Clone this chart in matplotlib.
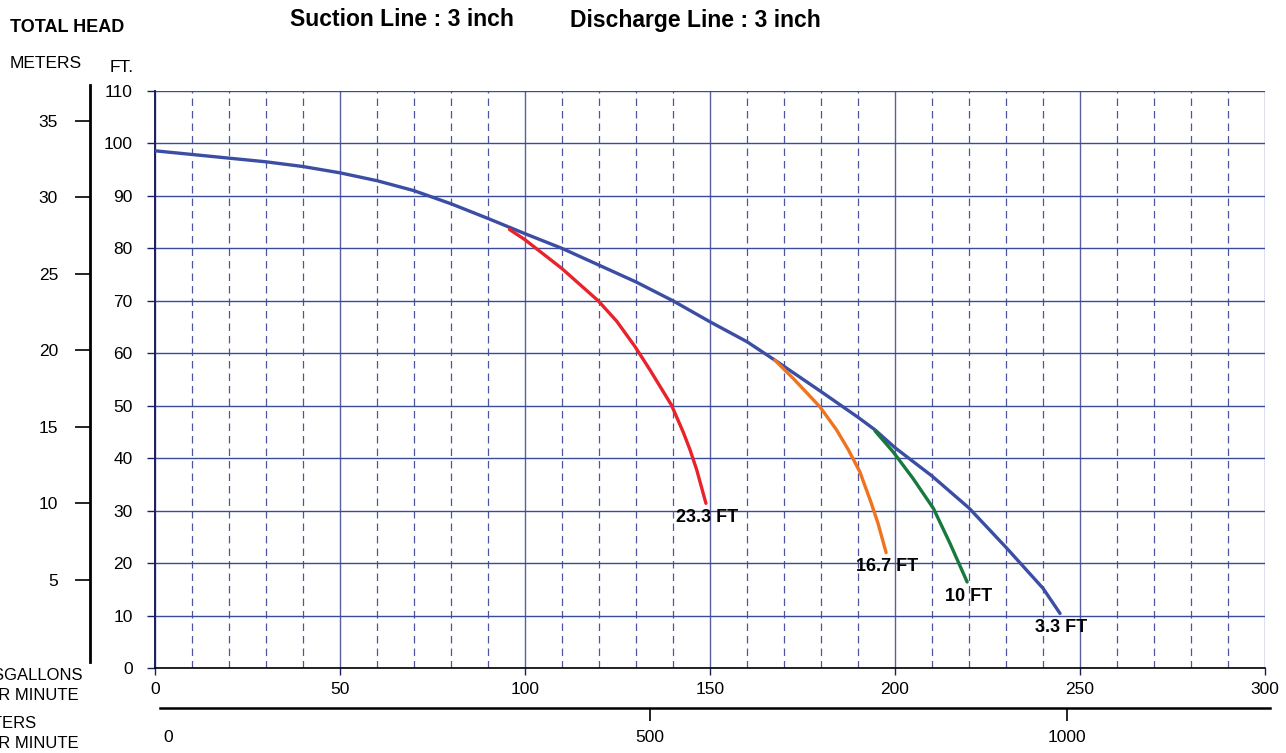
"""Pump performance curve: total head vs. flow, with suction lift curves."""

import matplotlib
matplotlib.use("Agg")
import matplotlib.pyplot as plt
from matplotlib.ticker import MultipleLocator, FixedLocator, FixedFormatter

plt.rcParams["font.family"] = ["Liberation Sans", "DejaVu Sans"]

# data (flow in US gpm, head in ft)
main_gpm = [0, 10, 20, 30, 40, 50, 60, 70, 80, 90, 100, 110, 120, 130,
            140, 150, 160, 167.5, 180, 190, 194.6, 200, 210, 220, 230, 240,
            244.6]
main_ft = [98.6, 97.9, 97.2, 96.5, 95.6, 94.4, 92.9, 91.0, 88.5, 85.7,
           82.8, 80.0, 76.8, 73.6, 70.0, 66.0, 62.2, 58.7, 52.7, 47.8, 45.4,
           42.0, 36.6, 30.5, 23.0, 15.2, 10.4]

lift_233_gpm = [95.8, 99.9, 109.9, 119.8, 124.8, 129.8, 133.8, 139.6,
                142.8, 144.6, 146.4, 148.9]
lift_233_ft = [83.6, 81.7, 76.2, 70.0, 66.1, 61.2, 56.8, 50.1, 44.9,
               41.6, 37.8, 31.4]

lift_167_gpm = [167.5, 172.5, 179.7, 184.2, 187.4, 190.5, 193.5, 195.4, 197.6]
lift_167_ft = [58.7, 55.2, 49.8, 45.4, 41.6, 37.4, 31.6, 27.6, 22.0]

lift_10_gpm = [194.6, 199.5, 204.9, 210.4, 214.9, 219.5]
lift_10_ft = [45.2, 41.2, 36.1, 30.4, 23.7, 16.4]

lift_labels = ["23.3 FT", "16.7 FT", "10 FT", "3.3 FT"]

meter_ticks = [5, 10, 15, 20, 25, 30, 35]
lpm_labels = ["0", "500", "1000"]
lpm_pos_gpm = [3.5, 133.8, 246.5]   # where the litre ticks sit on the gpm scale

W, H = 1286, 753
GRID = "#3a4a9c"
DASH = "#4e549e"
NAVY = "#1a1f5e"


def px(x0, y0, x1, y1):
    # pixel box (top-left origin) -> figure fraction rect
    return [x0 / W, 1 - y1 / H, (x1 - x0) / W, (y1 - y0) / H]


fig = plt.figure(figsize=(W / 100, H / 100), dpi=100)

# main chart
ax = fig.add_axes(px(155, 91, 1265, 668))
ax.set_xlim(0, 300)
ax.set_ylim(0, 110)
ax.xaxis.set_major_locator(MultipleLocator(50))
ax.xaxis.set_minor_locator(MultipleLocator(10))
ax.yaxis.set_major_locator(MultipleLocator(10))
ax.grid(True, which="major", axis="y", color=GRID, lw=1.0)
ax.grid(True, which="major", axis="x", color="#5a5fa0", lw=1.0)
ax.grid(True, which="minor", axis="x", color=DASH, lw=0.9, ls=(0, (6, 4)))
for s in ("top", "right"):
    ax.spines[s].set_visible(False)
ax.spines["left"].set_color(NAVY)
ax.spines["left"].set_linewidth(1.4)
ax.spines["bottom"].set_color("black")
ax.spines["bottom"].set_linewidth(1.2)
ax.tick_params(axis="y", which="major", length=6, width=1, color=NAVY,
               labelsize=12.5, pad=10)
ax.tick_params(axis="x", which="major", length=5, width=1, color=NAVY,
               labelsize=12.5, pad=5)
ax.tick_params(axis="x", which="minor", length=0)

kw = dict(lw=2.4, solid_capstyle="round", solid_joinstyle="round")
ax.plot(main_gpm, main_ft, color="#3b4ea3", zorder=4, **kw)
ax.plot(lift_233_gpm, lift_233_ft, color="#e8232b", zorder=5, **kw)
ax.plot(lift_167_gpm, lift_167_ft, color="#f0731f", zorder=5, **kw)
ax.plot(lift_10_gpm, lift_10_ft, color="#17793b", zorder=5, **kw)

ends = [(lift_233_gpm[-1], lift_233_ft[-1]), (lift_167_gpm[-1], lift_167_ft[-1]),
        (lift_10_gpm[-1], lift_10_ft[-1]), (main_gpm[-1], main_ft[-1])]
for (gx, fy), lab in zip(ends, lift_labels):
    ax.annotate(lab, (gx, fy), xytext=(1, -4), textcoords="offset points",
                ha="center", va="top", fontsize=13, fontweight="bold",
                zorder=6)

# meters scale on the left
axm = fig.add_axes(px(90, 85, 91, 662))
axm.set_ylim(-0.36, 37.35)
axm.set_xticks([])
axm.yaxis.set_major_locator(FixedLocator(meter_ticks))
for s in ("top", "right", "bottom"):
    axm.spines[s].set_visible(False)
axm.spines["left"].set_linewidth(2)
axm.patch.set_visible(False)
axm.tick_params(axis="y", length=11, width=1.2, labelsize=12.5, pad=12)

# litres per minute scale along the bottom
axl = fig.add_axes(px(160, 707, 1270, 708))
axl.set_xlim((160 - 155) / 3.7, (1270 - 155) / 3.7)
axl.set_yticks([])
axl.xaxis.set_major_locator(FixedLocator(lpm_pos_gpm))
axl.xaxis.set_major_formatter(FixedFormatter(lpm_labels))
for s in ("top", "right", "left"):
    axl.spines[s].set_visible(False)
axl.spines["bottom"].set_linewidth(1.8)
axl.patch.set_visible(False)
axl.tick_params(axis="x", length=9, width=1.2, labelsize=12.5, pad=7)
axl.xaxis.get_major_ticks()[0].tick1line.set_visible(False)


def ftxt(x, y, s, **kw):
    fig.text(x / W, 1 - y / H, s, va="center", **kw)


ftxt(10, 27, "TOTAL HEAD", fontsize=13, fontweight="bold")
ftxt(10, 64, "METERS", fontsize=12.5)
ftxt(110, 67, "FT.", fontsize=12.5)
ftxt(290, 20, "Suction Line : 3 inch", fontsize=16.5, fontweight="bold")
ftxt(570, 20, "Discharge Line : 3 inch", fontsize=16.5, fontweight="bold")
ftxt(83, 675, "USGALLONS", fontsize=12, ha="right")
ftxt(79, 695, "PER MINUTE", fontsize=12, ha="right")
ftxt(37, 723, "LITERS", fontsize=12, ha="right")
ftxt(79, 743, "PER MINUTE", fontsize=12, ha="right")

fig.savefig("out.png", dpi=100)
